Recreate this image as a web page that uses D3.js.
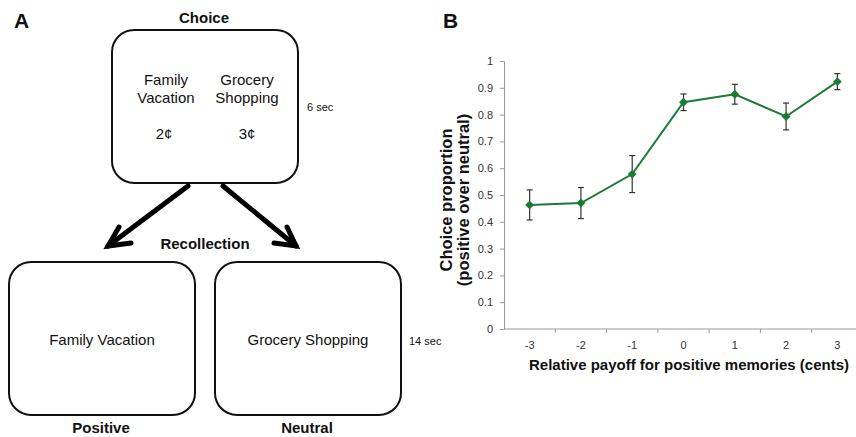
<!DOCTYPE html>
<html>
<head>
	<meta charset="utf-8">
	<title>Choice and recollection</title>
	<style>
		body {
			margin: 0;
			background: #fff;
			font-family: "Liberation Sans", Arial, Helvetica, sans-serif;
		}
		.box {
			fill: none;
			stroke: #111;
			stroke-width: 2;
		}
		.arrow {
			stroke: #000;
			stroke-width: 5;
			stroke-linecap: round;
			fill: none;
		}
		.axis path, .axis line {
			stroke: #999;
		}
		.axis text {
			fill: #333;
			font-size: 11px;
			font-family: "Liberation Sans", Arial, sans-serif;
		}
	</style>
</head>
<body>
	<div id="drawing"></div>

	<script src="https://cdnjs.cloudflare.com/ajax/libs/d3/7.8.5/d3.min.js"></script>
	<script>
	// Data (panel B)
	var payoffs = ["-3", "-2", "-1", "0", "1", "2", "3"]
	var choiceProportion = [0.463, 0.470, 0.578, 0.846, 0.876, 0.793, 0.923]
	var errors = [0.056, 0.058, 0.069, 0.031, 0.037, 0.050, 0.030]
	var yTicks = [0, 0.1, 0.2, 0.3, 0.4, 0.5, 0.6, 0.7, 0.8, 0.9, 1]

	var width = 856,
		height = 437,
		green = "#1b7a35"

	var svg = d3.select("#drawing").append("svg")
		.attr("width", width)
		.attr("height", height)

	// ---------- Panel A ----------
	var txt = function(x, y, s, size, bold, anchor){
		return svg.append("text")
			.attr("x", x).attr("y", y)
			.attr("text-anchor", anchor || "middle")
			.attr("font-size", size)
			.attr("font-weight", bold ? "bold" : "normal")
			.attr("fill", "#111")
			.text(s)
	}

	txt(14, 28, "A", 21, true, "start")
	txt(204, 23, "Choice", 15, true)

	svg.append("rect").attr("class", "box")
		.attr("x", 112).attr("y", 30).attr("width", 186).attr("height", 153)
		.attr("rx", 22).attr("ry", 22)

	txt(166, 85, "Family", 15)
	txt(166, 103, "Vacation", 15)
	txt(247, 85, "Grocery", 15)
	txt(247, 103, "Shopping", 15)
	txt(164, 139, "2\u00a2", 15)
	txt(247, 139, "3\u00a2", 15)
	txt(307, 111, "6 sec", 11, false, "start")

	// arrows
	var arrows = [
		{from: [188, 186], to: [108, 246], barbs: [[119, 227], [131, 243]]},
		{from: [223, 186], to: [296, 246], barbs: [[287, 227], [274, 243]]}
	]
	arrows.forEach(function(a){
		svg.append("line").attr("class", "arrow")
			.attr("x1", a.from[0]).attr("y1", a.from[1])
			.attr("x2", a.to[0]).attr("y2", a.to[1])
		svg.append("path").attr("class", "arrow")
			.attr("stroke-linejoin", "miter")
			.attr("d", "M" + a.barbs[0] + "L" + a.to + "L" + a.barbs[1])
	})

	txt(205, 249, "Recollection", 15, true)

	svg.append("rect").attr("class", "box")
		.attr("x", 9).attr("y", 262).attr("width", 186).attr("height", 153)
		.attr("rx", 22).attr("ry", 22)
	svg.append("rect").attr("class", "box")
		.attr("x", 215).attr("y", 262).attr("width", 186).attr("height", 153)
		.attr("rx", 22).attr("ry", 22)

	txt(102, 345, "Family Vacation", 15)
	txt(308, 345, "Grocery Shopping", 15)
	txt(409, 345, "14 sec", 11, false, "start")
	txt(101, 433, "Positive", 15, true)
	txt(307, 433, "Neutral", 15, true)

	// ---------- Panel B ----------
	txt(443, 28, "B", 21, true, "start")

	var x = d3.scaleBand().domain(payoffs).range([504, 863])
	var y = d3.scaleLinear().domain([0, 1]).range([329, 61])

	var xAxis = svg.append("g").attr("class", "axis")
		.attr("transform", "translate(0," + y(0) + ")")
		.call(d3.axisBottom(x).tickSize(0).tickPadding(12))
	xAxis.select(".domain").attr("d", "M504,0H856")
	// ticks sit between the categories
	xAxis.selectAll(".sep").data(payoffs.slice(1)).enter().append("line")
		.attr("x1", function(d){ return x(d) }).attr("x2", function(d){ return x(d) })
		.attr("y1", 0).attr("y2", 4)
		.attr("stroke", "#999")

	svg.append("g").attr("class", "axis")
		.attr("transform", "translate(504,0)")
		.call(d3.axisLeft(y).tickValues(yTicks).tickSize(4).tickPadding(7)
			.tickFormat(function(d){ return d3.format("")(+d.toFixed(1)) }))

	// axis titles
	txt(689, 370, "Relative payoff for positive memories (cents)", 15, true)
	svg.append("text")
		.attr("transform", "translate(452,200) rotate(-90)")
		.attr("text-anchor", "middle").attr("font-size", 16.5).attr("font-weight", "bold")
		.attr("fill", "#111")
		.text("Choice proportion")
	svg.append("text")
		.attr("transform", "translate(469,200) rotate(-90)")
		.attr("text-anchor", "middle").attr("font-size", 16.5).attr("font-weight", "bold")
		.attr("fill", "#111")
		.text("(positive over neutral)")

	var points = payoffs.map(function(p, i){
		return {cat: p, v: choiceProportion[i], e: errors[i]}
	})
	var cx = function(d){ return x(d.cat) + x.bandwidth()/2 }

	// error bars
	var eb = svg.append("g").attr("stroke", "#333").attr("stroke-width", 1.2)
	points.forEach(function(d){
		var xx = cx(d)
		eb.append("line").attr("x1", xx).attr("x2", xx)
			.attr("y1", y(d.v + d.e)).attr("y2", y(d.v - d.e))
		eb.append("line").attr("x1", xx - 3).attr("x2", xx + 3)
			.attr("y1", y(d.v + d.e)).attr("y2", y(d.v + d.e))
		eb.append("line").attr("x1", xx - 3).attr("x2", xx + 3)
			.attr("y1", y(d.v - d.e)).attr("y2", y(d.v - d.e))
	})

	// line
	svg.append("path")
		.datum(points)
		.attr("fill", "none")
		.attr("stroke", green)
		.attr("stroke-width", 2)
		.attr("d", d3.line().x(cx).y(function(d){ return y(d.v) }))

	// diamond markers
	svg.selectAll(".marker").data(points).enter().append("path")
		.attr("class", "marker")
		.attr("fill", green)
		.attr("transform", function(d){ return "translate(" + cx(d) + "," + y(d.v) + ")" })
		.attr("d", d3.symbol().type(d3.symbolDiamond2).size(50))
	</script>
</body>
</html>
